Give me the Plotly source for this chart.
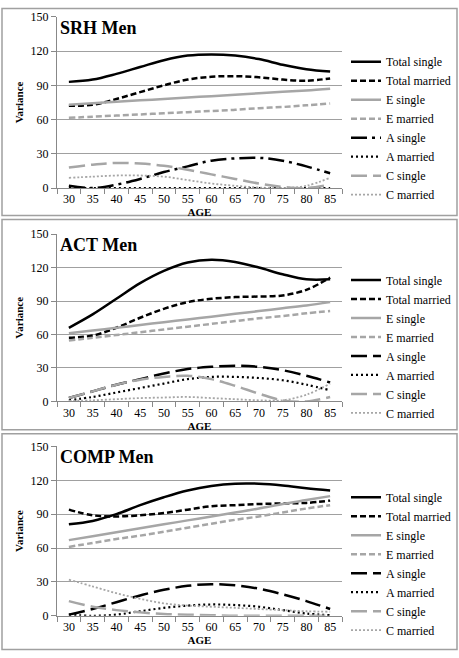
import plotly.graph_objects as go

ages = ["30", "35", "40", "45", "50", "55", "60", "65", "70", "75", "80", "85"]
series_names = ["Total single", "Total married", "E single", "E married",
                "A single", "A married", "C single", "C married"]
panel_titles = ["SRH Men", "ACT Men", "COMP Men"]
y_ticks = [0, 30, 60, 90, 120, 150]

# SRH Men
srh_total_single = [93, 95, 100, 106, 112, 116, 117, 116, 113, 108, 104, 102]
srh_total_married = [72, 73, 78, 84, 90, 95, 97.5, 98, 97, 95, 94, 96]
srh_e_single = [73, 74.3, 75.5, 76.8, 78, 79.3, 80.5, 81.8, 83, 84.3, 85.5, 87]
srh_e_married = [61.5, 62.5, 63.5, 64.5, 65.5, 66.5, 67.5, 68.5, 70, 71, 72.5, 74]
srh_a_single = [2, 0, 3, 8, 14, 19, 24, 26, 26.5, 24, 19, 13]
srh_a_married = [0, 0, 0, 0, 0, 0, 0, 0, 0, 0, 0, 0]
srh_c_single = [18, 20.5, 22, 21.5, 19.5, 16, 12, 8, 4, 1, 0, 3]
srh_c_married = [9, 10, 11, 11, 10, 7, 4, 2, 0.5, 0, 2, 9]

# ACT Men
act_total_single = [66, 78, 92, 106, 117, 124.5, 127, 125, 120, 114, 109.5, 109.5]
act_total_married = [57, 59, 66, 75, 83, 89, 92, 93.5, 94, 95, 100, 111]
act_e_single = [61, 63.5, 66, 68.5, 71, 73.5, 76, 78.5, 81, 83.5, 86, 89]
act_e_married = [54.5, 57, 59.5, 62, 64.5, 67, 69.5, 72, 74.5, 76.5, 79, 81]
act_a_single = [3, 9, 15, 20, 25, 29, 31, 32, 31, 28, 23, 17]
act_a_married = [1, 4, 8, 12, 16, 20, 22, 22, 21, 19, 15, 10]
act_c_single = [3, 9, 15, 19.5, 22, 23, 20, 14, 7, 1, 0, 4]
act_c_married = [0.5, 1, 2, 3, 3.5, 4, 3, 2, 1, 1, 6, 16]

# COMP Men
comp_total_single = [81, 84, 90, 98, 105, 111, 115, 117, 117, 115.5, 113, 111]
comp_total_married = [94, 89, 88, 89, 91, 94, 97, 98, 99, 99.5, 100, 102]
comp_e_single = [67, 70.5, 74, 77.5, 81, 84.5, 88, 91.5, 95, 99, 102.5, 106]
comp_e_married = [61, 64.5, 68, 71, 74.5, 78, 81.5, 85, 88, 91.5, 95, 98]
comp_a_single = [1, 6, 12, 18, 23, 26.5, 28, 27, 24, 19, 13, 6]
comp_a_married = [1, 0, 1, 4, 7, 9, 10, 9.5, 8, 5, 2, 0.5]
comp_c_single = [13, 8, 5, 3, 1.5, 1, 0.5, 0, 0, 0, 0, 0]
comp_c_married = [32, 26, 20, 15, 11, 9, 8, 7, 6, 5, 4, 3.5]

panels = [
    [srh_total_single, srh_total_married, srh_e_single, srh_e_married,
     srh_a_single, srh_a_married, srh_c_single, srh_c_married],
    [act_total_single, act_total_married, act_e_single, act_e_married,
     act_a_single, act_a_married, act_c_single, act_c_married],
    [comp_total_single, comp_total_married, comp_e_single, comp_e_married,
     comp_a_single, comp_a_married, comp_c_single, comp_c_married],
]

BLACK = "#000000"
GRAY = "#a6a6a6"
FONT = "Liberation Serif"

W, H = 459, 658


def px_x(p):
    return p / W


def px_y(p):
    return 1 - p / H


# per panel: (top px for 150, bottom px for 0, border top, border bottom, legend top)
geo = [
    (10, 185, 1.5, 213, 41),
    (232, 403, 217, 432, 264),
    (449, 622, 436, 656.5, 486),
]
plot_left, plot_right = 57, 342


def styles(panel_idx):
    a_dash = "16px,5px,3px,5px" if panel_idx == 0 else "16px,6px"
    return [
        dict(color=BLACK, width=2.5, dash="solid"),
        dict(color=BLACK, width=2.5, dash="6px,3px"),
        dict(color=GRAY, width=2.5, dash="solid"),
        dict(color=GRAY, width=2.5, dash="6px,3px"),
        dict(color=BLACK, width=2.5, dash=a_dash),
        dict(color=BLACK, width=2.2, dash="2px,3px"),
        dict(color=GRAY, width=2.5, dash="16px,6px"),
        dict(color=GRAY, width=1.8, dash="2px,2px"),
    ]


fig = go.Figure()
layout = dict(
    width=W, height=H,
    margin=dict(l=0, r=0, t=0, b=0),
    paper_bgcolor="white", plot_bgcolor="white",
    font=dict(family=FONT, size=12, color="black"),
    shapes=[], annotations=[],
)

for i, data in enumerate(panels):
    top, bot, btop, bbot, ltop = geo[i]
    sfx = "" if i == 0 else str(i + 1)
    legend_name = "legend" + sfx
    st = styles(i)
    for name, vals, s in zip(series_names, data, st):
        fig.add_trace(go.Scatter(
            x=ages, y=vals, name=name, mode="lines",
            line=dict(color=s["color"], width=s["width"], dash=s["dash"],
                      shape="spline", smoothing=1.0),
            xaxis="x" + sfx, yaxis="y" + sfx, legend=legend_name,
        ))
    layout["xaxis" + sfx] = dict(
        domain=[px_x(plot_left), px_x(plot_right)], anchor="y" + sfx,
        type="category", range=[-0.5, 11.5], tickson="boundaries",
        ticks="outside", ticklen=5,
        tickcolor="#888888", showline=True, linecolor="#888888", linewidth=1,
        showgrid=False, tickfont=dict(family=FONT, size=12),
        title=dict(text="<b>AGE</b>", font=dict(family=FONT, size=11), standoff=2),
        fixedrange=True,
    )
    layout["yaxis" + sfx] = dict(
        domain=[px_y(bot), px_y(top)], anchor="x" + sfx,
        range=[0, 150], tickvals=y_ticks, ticks="outside", ticklen=5,
        tickcolor="#888888", showline=True, linecolor="#888888", linewidth=1,
        showgrid=True, gridcolor="#a0a0a0", gridwidth=1, zeroline=False,
        tickfont=dict(family=FONT, size=12),
        title=dict(text="<b>Variance</b>", font=dict(family=FONT, size=11), standoff=4),
        fixedrange=True,
    )
    layout[legend_name] = dict(
        x=px_x(346), y=px_y(ltop), xanchor="left", yanchor="top",
        bgcolor="rgba(0,0,0,0)", font=dict(family=FONT, size=12, color="black"),
        itemwidth=30, tracegroupgap=0,
    )
    layout["shapes"].append(dict(
        type="rect", xref="paper", yref="paper",
        x0=px_x(2), x1=px_x(457), y0=px_y(bbot), y1=px_y(btop),
        line=dict(color="#a0a0a0", width=1.5), fillcolor="rgba(0,0,0,0)",
    ))
    layout["annotations"].append(dict(
        text="<b>" + panel_titles[i] + "</b>", xref="paper", yref="paper",
        x=px_x(58), y=px_y(top + 11), xanchor="left", yanchor="middle",
        showarrow=False, font=dict(family=FONT, size=18, color="black"),
    ))

fig.update_layout(**layout)
fig.write_html("out.html", config={"displayModeBar": False},
               post_script="document.body.style.margin='0';")
